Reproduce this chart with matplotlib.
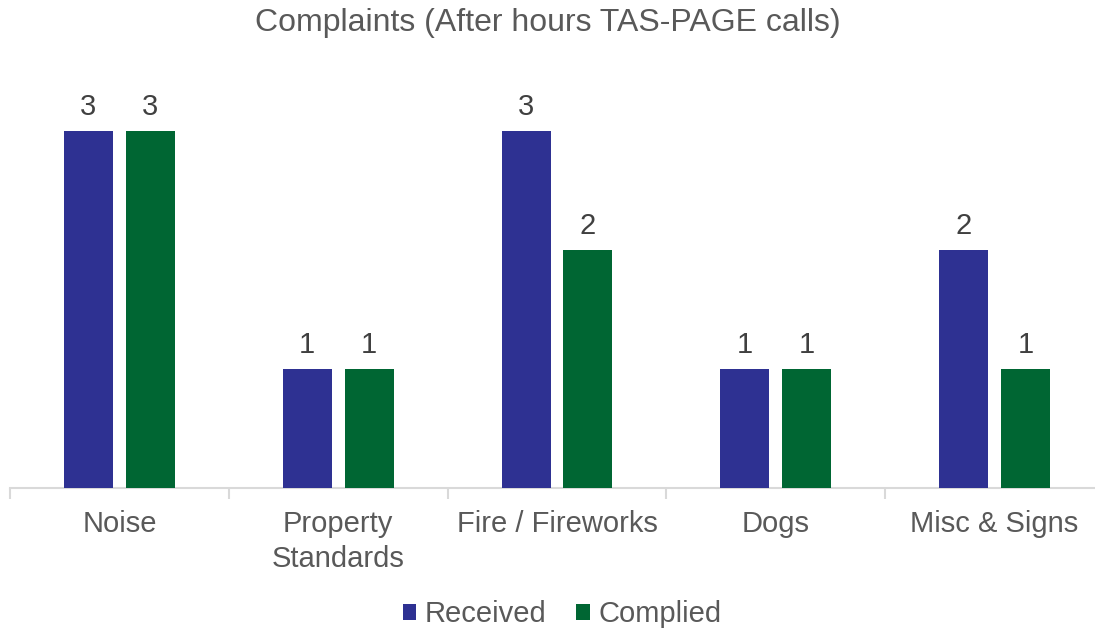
import matplotlib
matplotlib.use("Agg")
import matplotlib.pyplot as plt
import numpy as np

categories = ["Noise", "Property\nStandards", "Fire / Fireworks", "Dogs", "Misc & Signs"]
received = [3, 1, 3, 1, 2]
complied = [3, 1, 2, 1, 1]
series_names = ["Received", "Complied"]
colors = ["#2E3192", "#006633"]

plt.rcParams['font.family'] = ['Liberation Sans', 'DejaVu Sans']
TXT = "#595959"
FS = 21

W, H = 1095, 630
fig = plt.figure(figsize=(W/100, H/100), dpi=100)
left_px, right_px, bottom_px = 10, 1104, 488
ymax = 3.5
unit_px = 119
top_px = bottom_px - ymax*unit_px
ax = fig.add_axes([left_px/W, (H-bottom_px)/H, (right_px-left_px)/W, (bottom_px-top_px)/H])

x = np.arange(len(categories))
bw = 0.224
off = 0.1416
for vals, dx, c, name in [(received, -off, colors[0], series_names[0]), (complied, off, colors[1], series_names[1])]:
    bars = ax.bar(x+dx, vals, width=bw, color=c, label=name, zorder=3)
    for b, v in zip(bars, vals):
        ax.annotate(str(v), (b.get_x()+b.get_width()/2, v), xytext=(0, 7), textcoords="offset points",
                    ha="center", va="bottom", fontsize=FS, color="#404040")

ax.set_xlim(-0.5, len(categories)-0.5)
ax.set_ylim(0, ymax)
ax.set_yticks([])
for s in ["top", "right", "left"]:
    ax.spines[s].set_visible(False)
ax.spines["bottom"].set_color("#D9D9D9")
ax.spines["bottom"].set_linewidth(1.5)
ax.set_xticks(x)
ax.set_xticklabels(categories, fontsize=FS, color=TXT, linespacing=1.3)
ax.tick_params(axis="x", length=0, pad=16)
ax.set_xticks(np.arange(len(categories)+1)-0.5, minor=True)
ax.tick_params(axis="x", which="minor", length=8, color="#D9D9D9", width=1.5)

fig.text(0.5, 1-23/H, "Complaints (After hours TAS-PAGE calls)", ha="center", va="center", fontsize=23, color=TXT)

leg = fig.legend(loc="center", bbox_to_anchor=(562/W, 1-614/H), ncol=2, frameon=False, fontsize=FS,
                 handlelength=0.47, handleheight=0.47, handletextpad=0.3, columnspacing=1.0, labelcolor=TXT)

fig.savefig("out.png", dpi=100)
